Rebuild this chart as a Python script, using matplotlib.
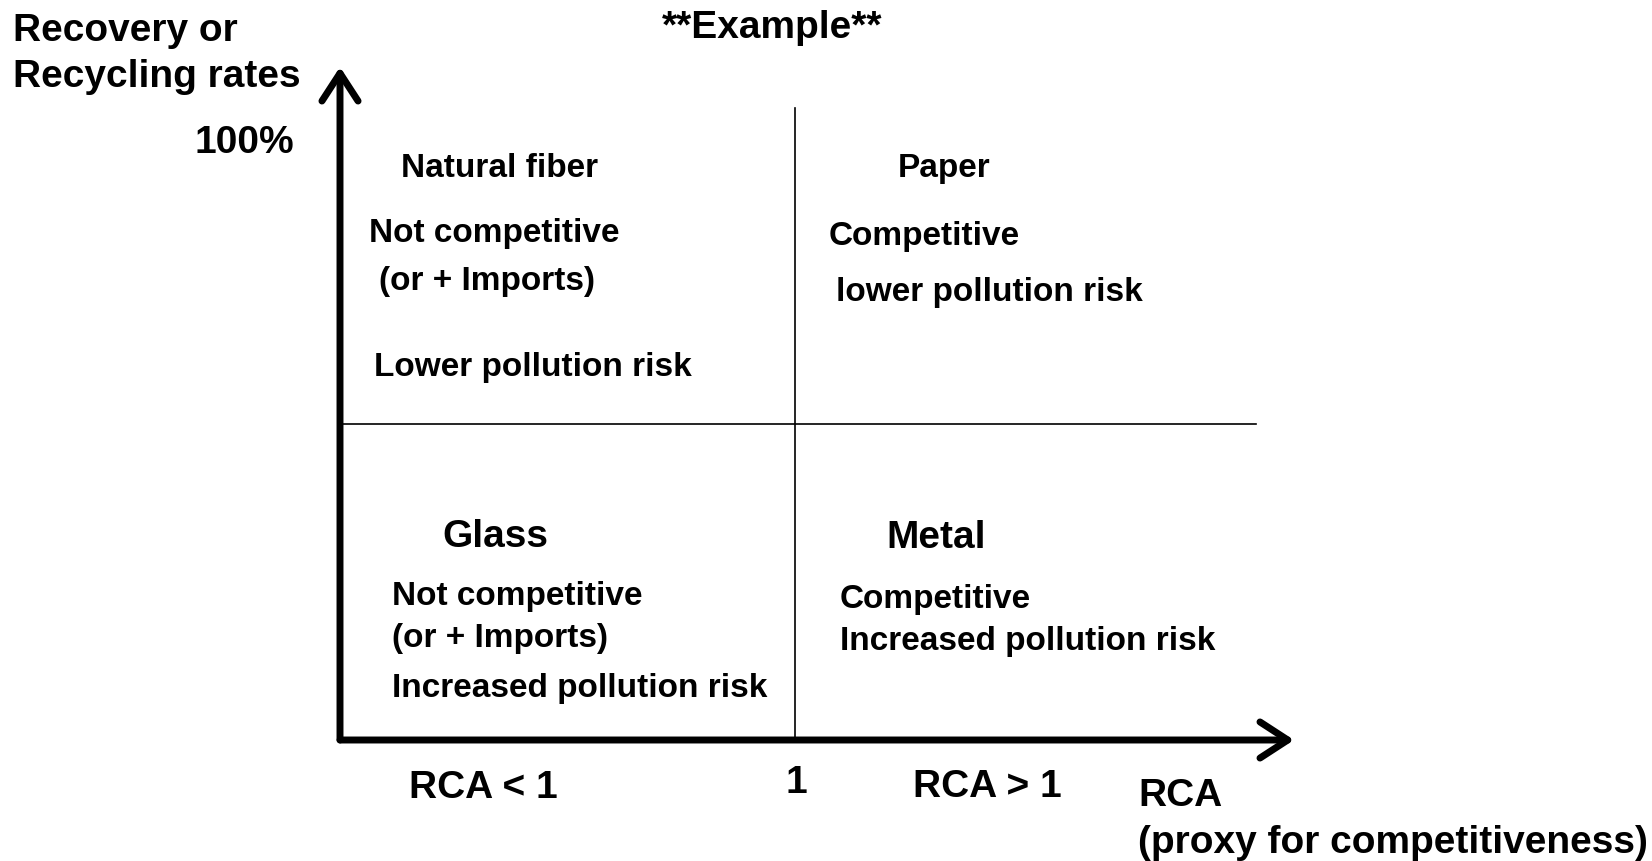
import matplotlib
matplotlib.use('Agg')
from matplotlib import pyplot as plt

plt.rcParams['font.family'] = ['Liberation Sans', 'DejaVu Sans']
plt.rcParams['font.weight'] = 'bold'

# axis extents (x = RCA, y = recovery rate in %)
x_threshold = 1.0
x_arrow_end = 2.097
y_arrow_end = 112.0
y_split = 52.6
x_split_end = 2.013
y_split_top = 105.2

# quadrant texts: (text, x, y, size)
quadrant_texts = [
    ('Natural fiber', 0.134, 95.3, 24),
    ('Not competitive', 0.064, 84.4, 24),
    ('(or + Imports)', 0.086, 76.5, 24),
    ('Lower pollution risk', 0.075, 62.1, 24),
    ('Paper', 1.226, 95.2, 24),
    ('Competitive', 1.073, 83.9, 24),
    ('lower pollution risk', 1.090, 74.7, 24),
    ('Glass', 0.226, 33.9, 28),
    ('Not competitive', 0.114, 24.0, 24),
    ('(or + Imports)', 0.114, 17.1, 24),
    ('Increased pollution risk', 0.114, 8.7, 24),
    ('Metal', 1.200, 33.8, 28),
    ('Competitive', 1.099, 23.5, 24),
    ('Increased pollution risk', 1.099, 16.6, 24),
]

axis_texts = [
    ('RCA < 1', 0.152, -7.8, 'left'),
    ('1', 1.004, -7.0, 'center'),
    ('RCA > 1', 1.259, -7.7, 'left'),
    ('RCA', 1.754, -9.2, 'left'),
    ('(proxy for competitiveness)', 1.754, -17.0, 'left'),
    ('Recovery or', -0.719, 118.1, 'left'),
    ('Recycling rates', -0.719, 110.5, 'left'),
    ('**Example**', 0.949, 118.6, 'center'),
    ('100%', -0.211, 99.5, 'center'),
]

fig = plt.figure(figsize=(16.52, 8.62), dpi=100)
ax = fig.add_axes([0, 0, 1, 1])
ax.set_xlim(-340 / 455, 1312 / 455)
ax.set_ylim(-121 / 6.01, 741 / 6.01)
ax.axis('off')

# dividers
ax.plot([x_threshold, x_threshold], [0, y_split_top], color='black', lw=1.2)
ax.plot([0, x_split_end], [y_split, y_split], color='black', lw=1.2)

# axes arrows
arrow = dict(arrowstyle='->,head_length=1.0,head_width=0.65', lw=5,
             color='black', capstyle='round', joinstyle='round',
             mutation_scale=20, shrinkA=0, shrinkB=0)
ax.annotate('', xy=(x_arrow_end, 0), xytext=(0, 0), arrowprops=arrow)
ax.annotate('', xy=(0, y_arrow_end), xytext=(0, 0), arrowprops=arrow)

for text, x, y, size in quadrant_texts:
    ax.text(x, y, text, fontsize=size, fontweight='bold', ha='left', va='center')

for text, x, y, ha in axis_texts:
    ax.text(x, y, text, fontsize=28, fontweight='bold', ha=ha, va='center')

fig.savefig('out.png', dpi=100)
plt.close(fig)
